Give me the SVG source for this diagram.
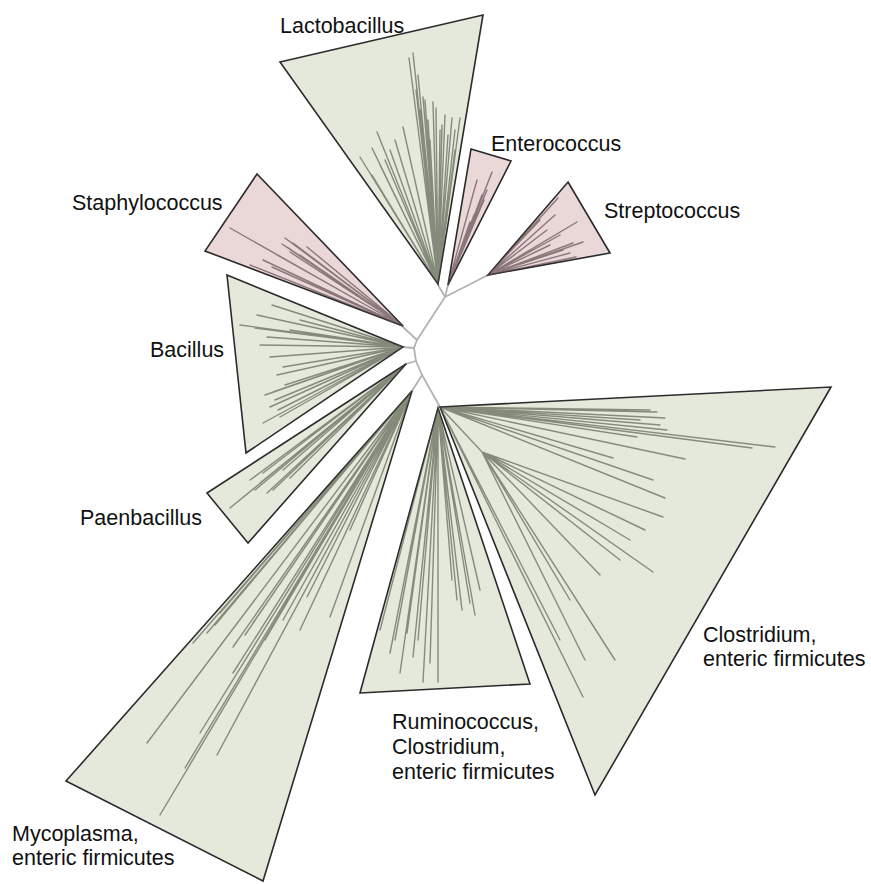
<svg xmlns="http://www.w3.org/2000/svg" width="871" height="884" viewBox="0 0 871 884">
<style>
.g{fill:#e4e9dc;stroke:#2b2b2b;stroke-width:1.6;stroke-linejoin:miter}
.p{fill:#ead8d9;stroke:#2b2b2b;stroke-width:1.6;stroke-linejoin:miter}
.bg{fill:none;stroke:#454c3b;stroke-opacity:.6;stroke-width:1.4;stroke-linecap:round}
.bp{fill:none;stroke:#574245;stroke-opacity:.65;stroke-width:1.4;stroke-linecap:round}
.c{fill:none;stroke:#b3b3b3;stroke-width:1.8;stroke-linejoin:round;stroke-linecap:round}
text{font-family:"Liberation Sans",Arial,Helvetica,sans-serif;font-size:21.5px;fill:#111}
</style>
<rect width="871" height="884" fill="#ffffff"/>
<g id="connectors">
<path class="c" d="M445 297L417 340L414 348L416 361L422 375L440 407"/>
<path class="c" d="M445 297L438 285M445 297L448 285M445 297L488 275"/>
<path class="c" d="M417 340L403 327M414 348L403 347M416 361L406 364M422 375L412 391"/>
</g>
<g id="lactobacillus">
<polygon class="g" points="280,62 483,15 438,284"/>
<path class="bg" d="M438 284L413 53M438 284L409 58M438 284L418 75M438 284L423 97M438 284L433 102M438 284L445 115M438 284L452 118M438 284L460 118M438 284L440 130M438 284L403 127M438 284L395 140M438 284L377 132M438 284L372 148M438 284L360 157M438 284L372 175M438 284L385 160M438 284L430 140M438 284L455 150M438 284L420 110M438 284L428 120M438 284L448 135M438 284L425 100M438 284L436 108M438 284L442 125M438 284L390 150M438 284L380 165M438 284L455 130M438 284L416 90"/>
<text x="280" y="33">Lactobacillus</text>
</g>
<g id="enterococcus">
<polygon class="p" points="471,149 511,161 448,285"/>
<path class="bp" d="M448 285L492 172M448 285L487 190M448 285L477 180M448 285L480 208M448 285L470 222M448 285L484 200M448 285L468 235M448 285L482 195M448 285L474 215"/>
<text x="491" y="151">Enterococcus</text>
</g>
<g id="streptococcus">
<polygon class="p" points="568,182 610,253 488,275"/>
<path class="bp" d="M488 275L558 198M488 275L577 222M488 275L576 257M488 275L573 243M488 275L547 230M488 275L563 250M488 275L540 220M488 275L528 232M488 275L583 242M488 275L555 215M488 275L570 253M488 275L560 235M488 275L550 245"/>
<text x="604" y="218">Streptococcus</text>
</g>
<g id="staphylococcus">
<polygon class="p" points="257,174 205,251 403,326"/>
<path class="bp" d="M403 326L230 228M403 326L285 238M403 326L250 265M403 326L272 267M403 326L287 247M403 326L293 243M403 326L263 260M403 326L307 247M403 326L277 255M403 326L300 255M403 326L290 252M403 326L282 244"/>
<text x="72" y="210">Staphylococcus</text>
</g>
<g id="bacillus">
<polygon class="g" points="227,275 246,453 403,347"/>
<path class="bg" d="M403 347L240 325M403 347L257 315M403 347L272 305M403 347L300 320M403 347L260 345M403 347L267 337M403 347L270 357M403 347L277 375M403 347L283 367M403 347L273 392M403 347L270 407M403 347L263 423M403 347L280 417M403 347L290 330M403 347L285 385M403 347L275 400M403 347L255 328M403 347L265 395M403 347L278 410"/>
<text x="150" y="357">Bacillus</text>
</g>
<g id="paenbacillus">
<polygon class="g" points="207,493 248,543 406,364"/>
<path class="bg" d="M406 364L230 508M406 364L250 480M406 364L260 483M406 364L267 493M406 364L283 470M406 364L263 473M406 364L273 490M406 364L290 478M406 364L255 490"/>
<text x="80" y="525">Paenbacillus</text>
</g>
<g id="mycoplasma">
<polygon class="g" points="66,781 263,881 412,391"/>
<path class="bg" d="M412 391L147 743M412 391L160 815M412 391L185 768M412 391L217 755M412 391L200 733M412 391L233 647M412 391L207 633M412 391L253 623M412 391L283 620M412 391L330 617M412 391L350 530M412 391L233 673M412 391L220 613M412 391L193 643M412 391L307 597M412 391L265 640M412 391L300 630M412 391L215 625M412 391L245 635"/>
<text x="12" y="841">Mycoplasma,</text>
<text x="12" y="865">enteric firmicutes</text>
</g>
<g id="ruminococcus">
<polygon class="g" points="360,693 530,684 438,408"/>
<path class="bg" d="M438 408L423 682M438 408L438 682M438 408L462 610M438 408L480 590M438 408L400 673M438 408L390 653M438 408L413 657M438 408L430 663M438 408L470 603M438 408L452 580M438 408L380 630M438 408L407 633M438 408L457 600M438 408L418 640M438 408L395 640M438 408L475 615"/>
<text x="392" y="729">Ruminococcus,</text>
<text x="392" y="754">Clostridium,</text>
<text x="392" y="779">enteric firmicutes</text>
</g>
<g id="clostridium">
<polygon class="g" points="440,407 831,387 595,795"/>
<path class="bg" d="M440 407L657 412M440 407L650 410M440 407L665 418M440 407L640 420M440 407L775 447M440 407L752 448M440 407L685 459M440 407L667 430M440 407L637 437M440 407L653 480M440 407L613 458M440 407L665 498M440 407L583 697M440 407L560 640M440 407L660 425M440 407L482 452L603 510M482 452L663 517M482 452L653 572M482 452L615 660M482 452L585 660M482 452L600 575M482 452L630 540M482 452L570 600M482 452L645 530M482 452L620 560"/>
<text x="703" y="642">Clostridium,</text>
<text x="703" y="666">enteric firmicutes</text>
</g>
</svg>
